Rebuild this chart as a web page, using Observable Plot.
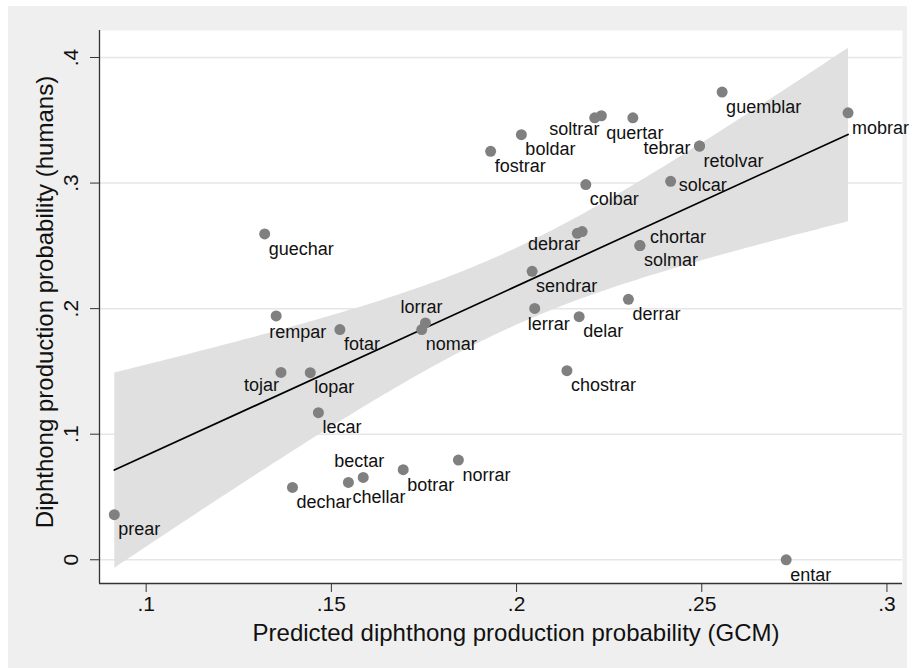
<!DOCTYPE html>
<html><head><meta charset="utf-8">
<script src="https://cdn.jsdelivr.net/npm/d3@7"></script>
<script src="https://cdn.jsdelivr.net/npm/@observablehq/plot@0.6"></script>
<style>
body{margin:0;background:#fff;}
#wrap{position:relative;width:913px;height:668px;background:#fff;overflow:hidden;}
#panel{position:absolute;left:8px;top:6px;width:899px;height:662px;background:#efefef;}
#chart{position:absolute;left:0;top:0;}
</style></head><body>
<div id="wrap"><div id="panel"></div><div id="chart"></div></div>
<script>
const words = ["prear","entar","mobrar","guemblar","tebrar","retolvar","solcar","colbar","fostrar","boldar",
  "","soltrar","quertar","","debrar","chortar","solmar","sendrar","lerrar","delar",
  "derrar","chostrar","guechar","rempar","fotar","lorrar","nomar","tojar","lopar","lecar",
  "dechar","chellar","bectar","botrar","norrar"];
const gcm = [0.0914,0.2728,0.2895,0.2555,0.2494,0.2494,0.2416,0.2187,0.1930,0.2013,
  0.2211,0.2229,0.2314,0.2164,0.2177,0.2333,0.2333,0.2042,0.2049,0.2169,
  0.2302,0.2136,0.1320,0.1351,0.1523,0.1754,0.1744,0.1364,0.1443,0.1465,
  0.1395,0.1546,0.1586,0.1694,0.1843];
const humans = [0.0359,0.0000,0.3559,0.3725,0.3295,0.3295,0.3014,0.2988,0.3253,0.3385,
  0.3520,0.3536,0.3520,0.2600,0.2614,0.2502,0.2502,0.2297,0.2002,0.1936,
  0.2074,0.1506,0.2595,0.1942,0.1833,0.1886,0.1833,0.1492,0.1490,0.1171,
  0.0576,0.0616,0.0656,0.0717,0.0794];
// clock position of each marker label
const labelPos = [4,4,4,4,9,4,3,4,4,4,
  4,7,6,4,7,2,4,4,5,4,
  4,4,4,5,4,12,4,7,4,4,
  4,4,12,4,4];
const xTicks = [0.1,0.15,0.2,0.25,0.3];
const yTicks = [0,0.1,0.2,0.3,0.4];
const xTitle = "Predicted diphthong production probability (GCM)";
const yTitle = "Diphthong production probability (humans)";

const rows = words.map((w,i)=>({word:w, gcm:gcm[i], humans:humans[i], pos:labelPos[i]}));
const xDomain = [0.0874, 0.3042];
const yDomain = [-0.0189, 0.4215];
const fmt = d => d === 0 ? "0" : String(d).replace(/^0\./, ".");
const posStyle = {
  2:{dx:10,dy:-8,textAnchor:"start"},
  3:{dx:8,dy:4,textAnchor:"start"},
  4:{dx:4,dy:15,textAnchor:"start"},
  5:{dx:-7,dy:16,textAnchor:"start"},
  6:{dx:2,dy:15,textAnchor:"middle"},
  7:{dx:-2,dy:13,textAnchor:"end"},
  9:{dx:-9,dy:2,textAnchor:"end"},
  12:{dx:-4,dy:-16,textAnchor:"middle"}
};
const labelMarks = Object.keys(posStyle).map(k =>
  Plot.text(rows.filter(d => d.pos === +k && d.word !== ""), {
    x:"gcm", y:"humans", text:"word", ...posStyle[k], fontSize:18, fill:"#111"
  }));

const chart = Plot.plot({
  width:913, height:668,
  marginLeft:99, marginRight:11, marginTop:30, marginBottom:85,
  x:{domain:xDomain},
  y:{domain:yDomain},
  style:{background:"transparent", fontFamily:"'Liberation Sans', Arial, Helvetica, sans-serif", fontSize:"18px", color:"#111"},
  marks:[
    Plot.frame({fill:"white", stroke:"none"}),
    Plot.gridY(yTicks, {stroke:"#e6e6e6", strokeOpacity:1, strokeWidth:1.5}),
    Plot.linearRegressionY(rows, {x:"gcm", y:"humans", ci:0.95, fill:"#e0e0e0", fillOpacity:1, stroke:"#000", strokeWidth:1.7}),
    Plot.dot(rows, {x:"gcm", y:"humans", r:5.5, fill:"#808080", stroke:"none"}),
    ...labelMarks,
    Plot.ruleX([xDomain[0]], {stroke:"#333", strokeWidth:1.3}),
    Plot.ruleY([yDomain[0]], {stroke:"#333", strokeWidth:1.3}),
    Plot.axisX(xTicks, {tickSize:9, tickPadding:4, tickFormat:fmt, fontSize:21, label:null, stroke:"#333"}),
    Plot.axisY(yTicks, {tickSize:9, tickPadding:13, tickRotate:-90, tickFormat:fmt, fontSize:21, label:null, stroke:"#333"}),
    Plot.text([xTitle], {text:d=>d, frameAnchor:"bottom", dx:15, dy:57, fontSize:24, fill:"#111"}),
    Plot.text([yTitle], {text:d=>d, frameAnchor:"left", textAnchor:"middle", rotate:-90, dx:-54, dy:-5, fontSize:24, fill:"#111"})
  ]
});
document.getElementById("chart").appendChild(chart);
</script></body></html>
